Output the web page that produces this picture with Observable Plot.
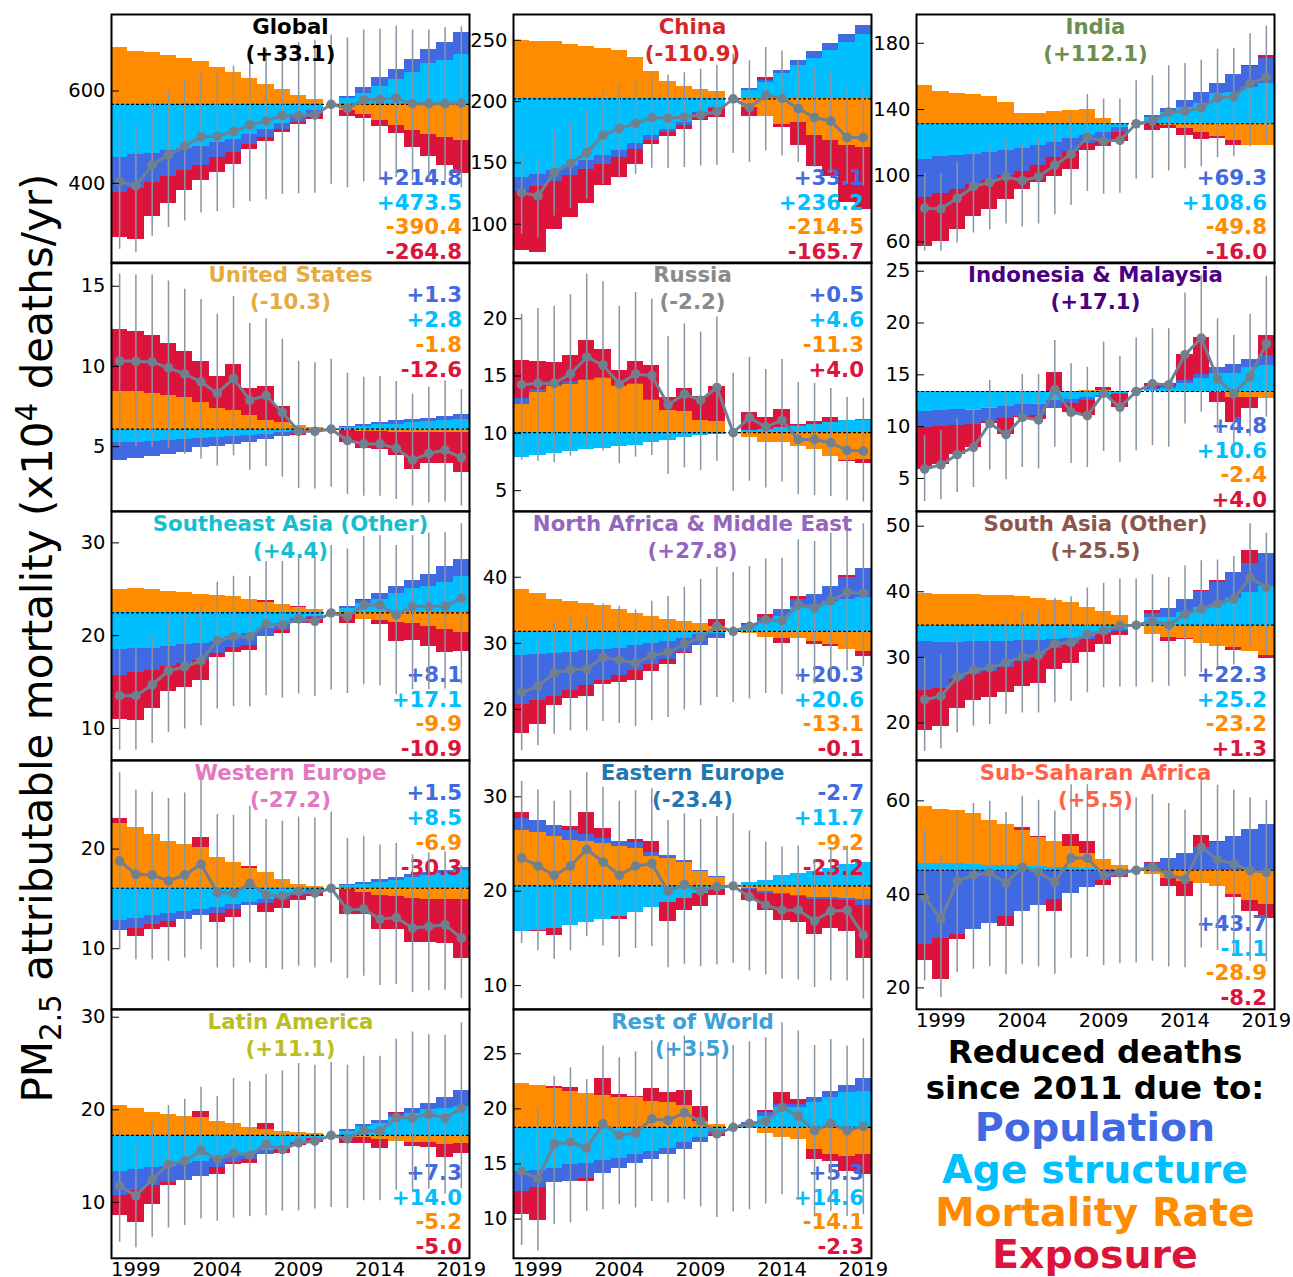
<!DOCTYPE html>
<html><head><meta charset="utf-8">
<script src="https://cdn.jsdelivr.net/npm/d3@7"></script>
<script src="https://cdn.jsdelivr.net/npm/@observablehq/plot@0.6"></script>
<style>
html,body{margin:0;padding:0;background:#fff;overflow:hidden}
#chart{position:relative;width:1293px;height:1277px;font-family:"DejaVu Sans",sans-serif;overflow:hidden}
#chart svg{position:absolute}
.ylab{position:absolute;white-space:nowrap;font-size:42px;line-height:1;transform:translate(-50%,-50%) rotate(-90deg)}
.ylab sub,.ylab sup{font-size:70%;line-height:0}
.leg{position:absolute;white-space:nowrap;font-weight:bold;line-height:1;transform:translate(-50%,-50%)}
</style></head><body><div id="chart"></div>
<script>
const years = [1998,1999,2000,2001,2002,2003,2004,2005,2006,2007,2008,2009,2010,2011,2012,2013,2014,2015,2016,2017,2018,2019];
const xTicks = [1999,2004,2009,2014,2019];
const legendLabels = ["Population","Age structure","Mortality Rate","Exposure"];

// ---- Global ----
const globalBase = 571.1;
const globalAge = [-115.5,-109.7,-106.9,-101,-95.3,-90.3,-83,-75.8,-66.4,-54.9,-41.9,-28.9,-14.4,0,11.6,23.1,39.7,54.2,68.6,88,95.3,108.3];
const globalMort = [123,115.5,112,105,100,92,79,70,55,42,33,20,11,0,-13,-21.7,-36.1,-44.8,-56.3,-65,-72.2,-79.4];
const globalPop = [-75.8,-72.2,-63.5,-55.6,-49.1,-41.2,-32.5,-28.2,-20.2,-15.9,-12,-9.5,-7.2,0,5.8,14.4,18,21.7,28.9,31,38.3,46.9];
const globalExp = [-97.5,-111,-73.6,-58.5,-43.3,-32.5,-32.5,-26,-10.8,-8.7,-7.2,-5.8,-11.6,0,-14.4,-8.7,-13,-18.8,-37.5,-48.4,-61.4,-70.8];
const globalTotal = [403.6,394.2,439.7,461.4,480.9,500.4,501.8,512,526.4,535.1,546.6,546.6,548,571.1,562.5,580.5,582,584.1,572.6,572.6,572.6,574];
const globalLo = [257,249.8,285.2,304,318.4,335.7,338.6,345.8,360.3,364.6,375.5,377.6,378.3,397.8,390.6,403.6,406.5,412.3,405,405,405,390.6];
const globalHi = [535,525.6,574.7,600,621.7,641.2,643.3,654.2,683,690.3,697.5,704.7,709.7,721.3,715.5,732.1,733.6,740.8,732.1,732.1,737.2,739.4];
const globalLabels = ["+214.8","+473.5","-390.4","-264.8"];

// ---- China ----
const chinaBase = 202.2;
const chinaAge = [-64.1,-61.4,-58.2,-54.6,-50.5,-46.5,-41.8,-36,-30.2,-24.7,-19.3,-11.1,-7.1,0,7.1,13.3,20.7,26.9,33.2,39.1,45.9,52.2];
const chinaMort = [47.8,46.5,46.5,44,42.4,41,39.1,33.7,22,14.1,9.8,7.3,5.7,0,-7,-14.7,-20.7,-19.3,-30.2,-34.2,-38.3,-39.7];
const chinaPop = [-11.4,-10.2,-9.2,-8.2,-7.4,-6.6,-5.8,-5,-4,-3,-2,-1.2,-0.5,0,1.4,1.9,2.7,4.1,5.2,6.25,6.8,7.3];
const chinaExp = [-48.4,-53.8,-39.4,-34,-27.7,-17.7,-16.3,-12.8,-3.3,-2.7,-3.5,-5.4,-7.3,0,-7.5,2.2,-2.7,-19,-24.5,-29,-46,-50.8];
const chinaTotal = [125.8,123.1,142.1,149.5,158.4,172.6,178,182.1,187,186.4,187.5,189.1,191.8,202.2,195.1,205.4,202.7,194.3,187,184.2,170.7,170.7];
const chinaLo = [91.8,89.1,106.8,112.8,120.4,132.6,137.5,140.8,145.7,145.4,146.2,147.6,148.1,157.6,150.3,159.8,155.7,150.3,146.2,141.3,132.6,131.2];
const chinaHi = [157.1,154.9,175.3,182.9,193.2,207.9,214.1,218.2,221.7,221.5,223.6,226.4,229.6,238.6,233.2,244,241.3,234,227.7,224.2,212.8,213.6];
const chinaLabels = ["+33.1","+236.2","-214.5","-165.7"];

// ---- India ----
const indiaBase = 131.4;
const indiaAge = [-21.6,-20,-19,-18.4,-17.6,-16,-15,-13,-11.4,-9,-7,-5,-2.4,0,3.6,7,10,12,18,19,21.6,24.4];
const indiaMort = [23,19.6,18.4,17.6,16.4,12.8,6.4,6,7.4,8,8.6,3.4,0,0,-0.4,-1,-3,-5,-8,-10.4,-13,-13];
const indiaPop = [-22.8,-22.4,-21,-18.6,-16.4,-15.4,-14,-12,-9.2,-8,-5,-6,-2.6,0,1.4,2.4,4,7,6.4,10.6,13,15.2];
const indiaExp = [-29.6,-28.6,-23.6,-19,-18,-14.6,-11,-10.6,-11.4,-10.6,-4,-3,-6,0,-3.6,-1.6,-4,-4.6,-1,-2.6,0.8,1.4];
const indiaTotal = [80.4,80,86.4,93.4,96,99.4,97,99.4,106.4,113,123.4,120.8,121.4,131.4,133,138.4,139,141,147,147.8,155.8,159.4];
const indiaLo = [54.4,54.4,59.4,65.4,67.4,70.8,69,70.8,76.4,82,90.4,88.8,89.4,97.8,98.4,102.8,104.2,105.4,110.8,111.4,117.4,120.4];
const indiaHi = [101.4,101.4,108.4,115.8,119.4,122.4,119,122.4,130.4,137.4,149,146.4,146.4,157.4,160.4,166.4,167.8,169.8,176.4,177,185.8,190.4];
const indiaLabels = ["+69.3","+108.6","-49.8","-16.0"];

// ---- United States ----
const usaBase = 6.09;
const usaAge = [-0.85,-0.81,-0.77,-0.70,-0.64,-0.57,-0.51,-0.45,-0.38,-0.32,-0.23,-0.15,-0.06,0,0.09,0.19,0.26,0.32,0.4,0.47,0.53,0.62];
const usaMort = [2.34,2.32,2.21,2.11,1.96,1.64,1.28,1.17,0.83,0.57,0.43,0.21,0.11,0,-0.1,-0.17,-0.17,-0.21,-0.23,-0.23,-0.23,-0.21];
const usaPop = [-1.13,-1.02,-0.94,-0.85,-0.81,-0.60,-0.55,-0.49,-0.43,-0.32,-0.21,-0.17,-0.06,0,0.06,0.11,0.15,0.19,0.19,0.21,0.26,0.32];
const usaExp = [3.87,3.74,3.64,3.26,2.87,2.55,2.02,2.87,1.7,2.06,1.0,-0.1,-0.1,0,-0.75,-1.06,-1.1,-1.45,-2.28,-1.91,-1.91,-2.47];
const usaTotal = [10.34,10.32,10.28,9.91,9.53,9.04,8.32,9.26,7.89,8.19,7.13,5.96,5.96,6.09,5.38,5.17,5.17,4.89,4.17,4.57,4.79,4.32];
const usaLo = [5.06,5.0,5.0,4.85,4.53,4.21,3.79,4.43,3.53,3.74,3.09,2.4,2.36,2.47,2.02,1.91,1.91,1.7,1.3,1.49,1.55,1.3];
const usaHi = [15.77,15.7,15.7,15.32,14.81,14.17,13.26,14.36,12.68,12.98,11.7,10.32,10.23,10.45,9.57,9.32,9.38,9.06,8.26,8.7,9.11,8.57];
const usaLabels = ["+1.3","+2.8","-1.8","-12.6"];

// ---- Russia ----
const russiaBase = 10.06;
const russiaAge = [-2.13,-1.96,-1.81,-1.61,-1.46,-1.37,-1.2,-1.08,-0.88,-0.67,-0.44,-0.29,-0.15,0,0.23,0.29,0.44,0.53,0.67,0.88,1.02,1.08];
const russiaMort = [2.49,3.51,4.01,4.24,4.53,4.68,4.01,4.24,2.78,1.9,1.84,1.02,0.94,0,-0.44,-0.88,-0.88,-1.23,-1.46,-2.05,-2.4,-2.34];
const russiaPop = [0.5,0.29,0.18,0.23,0.09,0.15,0.09,0.09,0.09,0.06,0.04,0.03,0.02,0,0,0,0,0.05,0.03,0.03,0.06,0.06];
const russiaExp = [3.3,2.43,1.93,2.25,3.42,2.4,1.32,1.87,2.98,1.11,1.96,2.13,3.1,0,1.52,1.02,1.55,0.1,0.23,0.41,-0.15,-0.35];
const russiaTotal = [14.24,14.36,14.36,15.18,16.64,15.96,14.30,15.18,15.03,12.49,13.42,12.89,14.0,10.06,11.37,10.56,11.14,9.47,9.47,9.18,8.51,8.45];
const russiaLo = [7.66,7.57,7.43,8.01,8.89,8.45,7.34,7.92,8.07,6.4,6.99,6.75,7.57,4.94,5.82,5.23,5.76,4.65,4.56,4.5,4.12,4.01];
const russiaHi = [20.38,20.88,21.08,22.11,23.89,23.22,21.08,22.28,21.7,18.45,19.56,18.83,20.15,15.23,16.64,15.56,16.43,14.44,14.36,13.92,13.13,13.07];
const russiaLabels = ["+0.5","+4.6","-11.3","+4.0"];

// ---- Indonesia & Malaysia ----
const indoBase = 13.39;
const indoAge = [-1.9,-1.84,-1.77,-1.71,-1.52,-1.42,-1.26,-1.13,-0.87,-0.81,-0.61,-0.39,-0.16,0,0.16,0.32,0.74,1.23,1.71,1.77,2.29,2.52];
const indoMort = [0,0,0,-0.1,-0.08,0,0,-0.1,0,0,0.1,0.1,0,0,0,-0.1,-0.06,-0.06,-0.13,-0.55,-0.55,-0.71];
const indoPop = [-1.55,-1.55,-1.52,-1.39,-1.26,-1.23,-1.16,-1.1,-0.8,-0.39,-0.26,-0.16,-0.1,0,0.1,0.16,0.32,0.42,0.58,0.84,0.81,0.97];
const indoExp = [-4.05,-3.68,-2.81,-2.19,-0.21,-1.51,-0.07,-0.41,1.85,-0.8,-1.46,0.32,-1.26,0,0.48,0.26,2.55,3.55,-0.9,-2.42,-1.06,1.94];
const indoTotal = [5.9,6.32,7.29,8.0,10.32,9.23,10.9,10.65,13.58,11.39,11.06,13.23,11.87,13.39,14.13,14.03,16.94,18.55,14.61,13.16,14.84,18.0];
const indoLo = [2.77,2.94,3.65,4.13,5.81,4.87,6.06,5.9,8.0,6.45,6.06,7.61,6.55,7.68,8.16,8.0,10.26,11.39,9.39,7.68,9.06,10.9];
const indoHi = [9.13,9.61,10.84,11.71,14.45,13.23,15.03,15.03,18.32,16.06,15.74,18.16,16.77,18.55,19.45,19.45,22.9,24.61,20.42,18.81,20.84,24.52];
const indoLabels = ["+4.8","+10.6","-2.4","+4.0"];

// ---- Southeast Asia (Other) ----
const seasiaBase = 22.45;
const seasiaAge = [-3.99,-3.88,-3.78,-3.63,-3.45,-3.27,-3.09,-2.55,-2.27,-1.73,-1.19,-0.65,-0.4,0,0.5,1.04,1.4,2.05,2.59,2.84,3.31,3.96];
const seasiaMort = [2.52,2.63,2.48,2.3,2.19,1.98,1.87,1.76,1.44,1.12,0.86,0.61,0.36,0,-0.1,-0.72,-0.83,-1.0,-1.19,-1.47,-1.83,-2.09];
const seasiaPop = [-2.77,-2.59,-2.37,-2.16,-2.05,-1.87,-1.33,-1.15,-1.26,-0.83,-0.65,-0.54,-0.14,0,0.18,0.29,0.65,0.79,0.9,1.29,1.69,1.8];
const seasiaExp = [-4.75,-5.14,-4.14,-2.7,-2.52,-2.16,-0.36,-0.54,-0.47,0.25,-0.36,0.07,-0.65,0,-1.0,0.1,-0.43,-2.05,-1.73,-2.16,-2.41,-2.05];
const seasiaTotal = [13.53,13.53,14.71,16.22,16.65,17.30,19.46,19.89,19.89,21.26,21.15,21.80,21.55,22.45,22.05,23.31,23.31,22.23,23.13,23.13,23.17,24.03];
const seasiaLo = [7.66,7.66,8.38,9.57,9.93,10.29,12.09,12.34,12.34,13.53,13.27,13.71,13.45,14.14,13.78,14.71,14.6,13.63,14.17,14.17,14.24,14.78];
const seasiaHi = [18.67,18.56,20.11,21.98,22.34,23.24,25.76,26.4,26.4,27.99,27.99,28.38,28.38,29.71,29.35,30.68,30.79,29.71,30.79,31.04,31.08,32.05];
const seasiaLabels = ["+8.1","+17.1","-9.9","-10.9"];

// ---- North Africa & Middle East ----
const menaBase = 31.82;
const menaAge = [-3.69,-3.54,-3.33,-3.18,-2.93,-2.78,-2.53,-2.17,-1.92,-1.52,-1.16,-0.51,-0.3,0,0.71,1.36,2.22,3.64,3.89,4.55,4.8,5.05];
const menaMort = [6.31,5.66,4.8,4.49,4.24,3.89,3.28,2.63,2.22,1.77,1.46,1.11,0.76,0,-0.3,-0.91,-1.16,-1.16,-1.57,-2.07,-2.68,-3.08];
const menaPop = [-7.42,-6.97,-6.57,-5.76,-5.3,-4.70,-4.19,-3.79,-3.13,-2.68,-2.02,-1.67,-0.8,0,0.3,0.76,1.06,1.16,1.67,2.22,3.38,4.49];
const menaExp = [-4.34,-3.64,-1.36,-1.16,-1.67,-0.61,-1.01,-1.52,-1.06,-0.86,-0.15,0.1,1.0,0,0.2,0.35,-0.66,0.45,-0.45,-0.25,0.25,-0.71];
const menaTotal = [22.58,23.48,25.51,26.01,26.11,27.88,27.47,27.02,28.13,28.64,29.9,30.91,32.58,31.82,32.58,33.54,33.43,35.81,35.35,36.46,37.73,37.58];
const menaLo = [13.74,14.49,16.26,16.77,16.77,18.18,17.88,17.42,18.28,18.79,19.9,20.56,21.82,21.06,21.57,22.42,22.22,24.34,23.84,24.85,25.86,26.5];
const menaHi = [29.9,31.01,33.18,33.94,34.04,35.96,35.61,35.1,36.36,37.07,38.48,39.65,41.52,40.76,41.62,42.78,42.88,45.66,45.4,46.67,47.93,48.08];
const menaLabels = ["+20.3","+20.6","-13.1","-0.1"];

// ---- South Asia (Other) ----
const sasiaBase = 34.9;
const sasiaAge = [-2.55,-2.65,-2.65,-2.55,-2.5,-2.5,-2.4,-2.3,-2.14,-1.99,-1.79,-1.12,-0.61,0,1.17,1.17,1.94,2.7,3.21,4.13,5.0,5.87];
const sasiaMort = [4.85,4.64,4.74,4.64,4.59,4.49,4.34,4.08,3.83,3.47,2.7,2.09,1.53,0,-1.48,-1.89,-2.04,-2.81,-3.32,-3.42,-4.03,-4.59];
const sasiaPop = [-7.4,-7.04,-5.61,-4.9,-4.59,-3.88,-3.06,-2.3,-1.38,-0.92,-0.36,-0.26,-0.36,0,0.6,1.38,2.04,2.4,3.32,3.93,4.44,5.1];
const sasiaExp = [-6.12,-5.82,-4.49,-4.08,-3.98,-3.88,-3.93,-4.34,-3.22,-2.96,-1.94,-1.53,-0.56,0,0.4,-0.61,-0.2,0.15,0.26,-0.51,1.94,-0.51];
const sasiaTotal = [23.57,24.08,26.99,28.01,28.42,29.18,30.1,30.31,32.09,32.24,33.52,34.03,34.8,34.9,35.56,34.9,36.58,37.35,38.21,38.88,42.19,40.66];
const sasiaLo = [15.66,16.02,18.47,19.49,19.74,21.28,21.53,21.53,23.06,23.32,24.59,25.36,25.46,25.46,26.12,25.61,26.99,27.65,28.42,28.83,31.58,30.46];
const sasiaHi = [29.95,30.36,33.42,34.69,35.05,35.82,36.84,37.09,39.03,39.23,40.56,41.28,41.94,41.94,42.6,42.19,43.98,44.74,44.85,45.36,50.36,48.93];
const sasiaLabels = ["+22.3","+25.2","-23.2","+1.3"];

// ---- Western Europe ----
const weurBase = 16.07;
const weurAge = [-3.23,-3.0,-2.73,-2.5,-2.33,-2.1,-1.9,-1.67,-1.43,-1.17,-0.83,-0.5,-0.17,0,0.23,0.4,0.6,0.77,1.07,1.27,1.5,1.77];
const weurMort = [6.5,6.1,5.4,4.73,4.4,4.07,3.1,2.57,2.0,1.6,0.9,0.33,0.17,0,-0.17,-0.43,-0.73,-0.83,-1.07,-1.17,-1.1,-1.1];
const weurPop = [-1.0,-1.0,-0.93,-0.83,-0.77,-0.67,-0.6,-0.5,-0.33,-0.33,-0.33,-0.23,-0.17,0,0.1,0.17,0.23,0.3,0.27,0.33,0.27,0.33];
const weurExp = [0.5,-0.83,-0.5,-0.6,-0.07,1.03,-0.93,-0.77,0.23,-0.9,-0.9,-0.53,-0.5,0,-2.43,-2.23,-3.43,-3.33,-4.37,-4.27,-4.4,-6.0];
const weurTotal = [18.8,17.47,17.4,16.8,17.4,18.47,15.63,15.57,16.57,15.4,15.3,15.73,15.57,16.07,13.9,13.97,12.97,13.13,12.07,12.23,12.4,11.07];
const weurLo = [9.9,8.9,8.9,8.73,9.07,9.9,8.07,8.07,8.57,8.0,7.9,8.23,8.07,8.57,7.0,7.23,6.3,6.4,5.57,5.8,5.83,5.0];
const weurHi = [27.67,25.9,25.73,25.07,25.63,27.73,23.47,23.4,24.3,22.97,22.8,23.23,23.13,23.73,21.07,21.3,20.4,20.57,19.4,19.63,19.73,18.33];
const weurLabels = ["+1.5","+8.5","-6.9","-30.3"];

// ---- Eastern Europe ----
const eeurBase = 20.56;
const eeurAge = [-4.78,-4.68,-4.5,-4.2,-3.9,-3.55,-3.2,-2.8,-2.3,-1.8,-1.3,-0.85,-0.35,0,0.35,0.6,1.06,1.3,1.48,1.83,2.25,2.46];
const eeurMort = [5.88,5.70,5.28,4.82,4.72,4.47,4.23,4.01,3.17,2.89,2.46,1.48,0.85,0,-0.3,-0.63,-0.81,-1.06,-1.27,-1.27,-1.34,-1.44];
const eeurPop = [1.23,1.23,1.13,1.06,0.7,0.6,0.49,0.56,0.42,0.35,0.25,0.18,0.11,0,-0.05,-0.18,-0.1,-0.1,-0.18,-0.18,-0.18,-0.6];
const eeurExp = [0.63,-0.13,-0.78,0.44,2.36,1.02,-0.39,0.35,1.07,-2.0,-1.27,-1.33,-0.71,0,-1.16,-1.83,-2.72,-2.71,-3.72,-3.05,-3.3,-5.63];
const eeurTotal = [23.52,22.68,21.69,22.68,24.44,23.1,21.69,22.68,22.92,20.0,20.7,20.04,20.46,20.56,19.4,18.52,17.99,17.99,16.87,17.89,17.99,15.35];
const eeurLo = [14.47,13.7,12.78,13.7,15.18,14.19,12.99,13.94,14.12,11.9,12.25,12.01,12.18,12.36,11.58,11.13,10.67,10.6,9.79,10.49,10.49,8.59];
const eeurHi = [31.62,30.74,29.54,30.67,32.54,31.02,29.54,30.67,30.85,27.5,28.2,27.61,27.92,28.2,26.37,25.21,24.68,24.79,23.38,24.58,24.79,21.87];
const eeurLabels = ["-2.7","+11.7","-9.2","-23.2"];

// ---- Sub-Saharan Africa ----
const ssaBase = 45.16;
const ssaAge = [1.48,1.48,1.34,1.2,1.06,1.06,0.85,0.71,0.64,0.49,0.35,0.1,0.05,0,-0.02,-0.03,-0.04,-0.05,-0.06,-0.07,-0.08,-0.09];
const ssaMort = [12.08,11.52,11.38,10.95,9.68,8.62,7.56,6.36,5.51,4.59,3.32,2.3,1.06,0,-0.92,-1.77,-2.33,-2.83,-3.39,-5.02,-6.36,-7.28];
const ssaPop = [-15.9,-14.7,-13.64,-12.58,-11.31,-9.96,-8.8,-7.49,-6.22,-5.02,-3.75,-2.19,-1.27,0,1.34,2.47,3.67,4.88,5.94,7.21,8.62,9.82];
const ssaExp = [-3.39,-8.69,-1.27,-0.14,0,-2.12,0.71,0.14,-2.61,2.47,2.47,-1.06,-0.35,0,0.21,-1.63,-3.18,2.54,0.21,-0.71,-2.47,-2.97];
const ssaTotal = [39.43,34.7,42.83,44.1,44.59,42.47,45.8,44.73,42.61,47.77,47.77,44.03,44.59,45.16,45.87,44.24,43.18,50.04,47.42,46.5,45.09,44.73];
const ssaLo = [21.48,17.95,23.25,23.96,24.59,22.83,24.95,24.45,22.9,26.36,26.57,24.81,25.16,25.3,25.72,24.45,24.31,28.55,27.99,27.14,25.72,25.51];
const ssaHi = [53.78,48.34,57.88,59.43,59.93,57.53,60.99,60.14,57.81,63.46,63.46,58.73,60.49,60.64,61.34,59.43,58.02,64.38,63.32,62.26,60.64,60.14];
const ssaLabels = ["+43.7","-1.1","-28.9","-8.2"];

// ---- Latin America ----
const latamBase = 17.25;
const latamAge = [-3.86,-3.68,-3.5,-3.32,-3.04,-2.79,-2.5,-2.07,-2.0,-1.6,-1.2,-0.8,-0.3,0,0.43,0.96,1.32,1.93,2.39,2.75,2.93,3.11];
const latamMort = [3.21,2.93,2.5,2.29,2.04,1.96,1.5,1.32,0.89,0.61,0.43,0.25,0.14,0,-0.05,-0.29,-0.46,-0.64,-0.75,-0.75,-1.0,-0.93];
const latamPop = [-2.68,-2.32,-1.96,-1.79,-1.82,-1.61,-0.93,-0.89,-0.6,-0.5,-0.3,-0.15,-0.1,0,0.18,0.18,0.25,0.36,0.54,0.71,1.14,1.68];
const latamExp = [-2.14,-3.39,-1.96,-0.36,-0.07,0.61,-0.79,-0.18,-0.45,0.61,-0.47,-0.12,-0.38,0,-0.82,-0.64,-0.96,0.21,-0.43,-0.61,-1.43,-1.04];
const latamTotal = [11.79,10.71,12.5,14.11,14.46,15.61,14.64,15.29,15.11,16.25,15.71,16.43,16.61,17.25,16.86,17.75,17.68,19.18,19.11,19.54,19.11,20.18];
const latamLo = [5.71,5.11,6.25,7.25,7.5,8.21,7.96,8.32,8.46,8.57,9.04,9.11,9.29,9.46,9.36,10.18,10.18,11.32,11.25,11.43,10.89,11.5];
const latamHi = [17.86,16.61,18.57,20.46,21.14,22.43,21.43,23.39,23.04,23.82,24.18,25.0,24.82,25.11,24.82,25.79,25.79,27.61,28.39,28.11,28.04,29.39];
const latamLabels = ["+7.3","+14.0","-5.2","-5.0"];

// ---- Rest of World ----
const rowBase = 18.33;
const rowAge = [-4.0,-3.9,-3.7,-3.4,-3.25,-3.03,-2.85,-2.5,-2.18,-1.88,-1.42,-0.97,-0.36,0,0.24,1.0,1.76,1.82,2.21,2.67,3.12,3.21];
const rowMort = [3.94,3.82,3.52,3.21,3.03,2.91,2.73,2.67,2.3,2.27,2.0,0.55,0.24,0,-0.12,-0.52,-0.97,-1.12,-2.03,-2.48,-2.64,-2.48];
const rowPop = [-1.82,-1.6,-1.3,-1.5,-1.36,-1.12,-0.85,-0.76,-0.76,-0.6,-0.6,-0.45,-0.3,0,0.15,0.3,0.3,0.24,0.52,0.61,0.7,1.21];
const rowExp = [-2.14,-2.98,0.2,0.36,-0.3,1.55,0.25,0.08,1.2,0.85,1.33,1.3,-0.18,0,0.07,0.21,1.06,0.5,-0.91,-0.61,-1.4,-1.82];
const rowTotal = [14.33,13.67,16.82,17.0,16.45,18.64,17.61,17.82,19.09,18.97,19.64,18.88,17.73,18.33,18.67,18.88,20.15,19.33,18.03,18.67,18.03,18.42];
const rowLo = [7.6,7.1,9.48,9.64,10.7,10.85,11.3,11.0,11.6,11.45,11.76,11.09,10.15,10.64,10.85,11.36,12.21,11.76,10.39,10.7,10.24,10.39];
const rowHi = [16.2,20.0,22.97,23.73,22.67,25.7,24.64,25.18,26.15,26.0,26.61,26.09,25.3,25.76,26.09,26.45,27.82,27.06,25.76,26.3,25.7,26.39];
const rowLabels = ["+5.3","+14.6","-14.1","-2.3"];

// ---- styling / layout ----
const compColor = {pop:"#4169E1", age:"#00BFFF", mort:"#FF8C00", exp:"#DC143C"};
const labelColors = [compColor.pop, compColor.age, compColor.mort, compColor.exp];
const colX = [110.7, 512.7, 915.7];
const rowY = [13.5, 262.3, 511, 759.8, 1008.6];
const PW = 358, PH = 248.8;

const panels = [
  {title:"Global", change:"(+33.1)", color:"#000000", col:0,row:0, domain:[226.7,765.7], ticks:[400,600], side:"bottom", base:globalBase, age:globalAge, mort:globalMort, pop:globalPop, exp:globalExp, total:globalTotal, lo:globalLo, hi:globalHi, labels:globalLabels},
  {title:"China", change:"(-110.9)", color:"#d62728", col:1,row:0, domain:[68.2,271], ticks:[100,150,200,250], side:"bottom", base:chinaBase, age:chinaAge, mort:chinaMort, pop:chinaPop, exp:chinaExp, total:chinaTotal, lo:chinaLo, hi:chinaHi, labels:chinaLabels},
  {title:"India", change:"(+112.1)", color:"#6b8e4e", col:2,row:0, domain:[47.1,197.4], ticks:[60,100,140,180], side:"bottom", base:indiaBase, age:indiaAge, mort:indiaMort, pop:indiaPop, exp:indiaExp, total:indiaTotal, lo:indiaLo, hi:indiaHi, labels:indiaLabels},
  {title:"United States", change:"(-10.3)", color:"#e6ab3c", col:0,row:1, domain:[0.97,16.48], ticks:[5,10,15], side:"top", base:usaBase, age:usaAge, mort:usaMort, pop:usaPop, exp:usaExp, total:usaTotal, lo:usaLo, hi:usaHi, labels:usaLabels},
  {title:"Russia", change:"(-2.2)", color:"#8a8a8a", col:1,row:1, domain:[3.2,24.9], ticks:[5,10,15,20], side:"top", base:russiaBase, age:russiaAge, mort:russiaMort, pop:russiaPop, exp:russiaExp, total:russiaTotal, lo:russiaLo, hi:russiaHi, labels:russiaLabels},
  {title:"Indonesia & Malaysia", change:"(+17.1)", color:"#4b0082", col:2,row:1, domain:[1.83,25.84], ticks:[5,10,15,20,25], side:"bottom", base:indoBase, age:indoAge, mort:indoMort, pop:indoPop, exp:indoExp, total:indoTotal, lo:indoLo, hi:indoHi, labels:indoLabels},
  {title:"Southeast Asia (Other)", change:"(+4.4)", color:"#17becf", col:0,row:2, domain:[6.57,33.38], ticks:[10,20,30], side:"bottom", base:seasiaBase, age:seasiaAge, mort:seasiaMort, pop:seasiaPop, exp:seasiaExp, total:seasiaTotal, lo:seasiaLo, hi:seasiaHi, labels:seasiaLabels},
  {title:"North Africa & Middle East", change:"(+27.8)", color:"#9467bd", col:1,row:2, domain:[12.3,49.95], ticks:[20,30,40], side:"bottom", base:menaBase, age:menaAge, mort:menaMort, pop:menaPop, exp:menaExp, total:menaTotal, lo:menaLo, hi:menaHi, labels:menaLabels},
  {title:"South Asia (Other)", change:"(+25.5)", color:"#8c564b", col:2,row:2, domain:[14.3,52.24], ticks:[20,30,40,50], side:"bottom", base:sasiaBase, age:sasiaAge, mort:sasiaMort, pop:sasiaPop, exp:sasiaExp, total:sasiaTotal, lo:sasiaLo, hi:sasiaHi, labels:sasiaLabels},
  {title:"Western Europe", change:"(-27.2)", color:"#e377c2", col:0,row:3, domain:[3.92,28.89], ticks:[10,20], side:"top", base:weurBase, age:weurAge, mort:weurMort, pop:weurPop, exp:weurExp, total:weurTotal, lo:weurLo, hi:weurHi, labels:weurLabels},
  {title:"Eastern Europe", change:"(-23.4)", color:"#1f77b4", col:1,row:3, domain:[7.49,33.85], ticks:[10,20,30], side:"top", base:eeurBase, age:eeurAge, mort:eeurMort, pop:eeurPop, exp:eeurExp, total:eeurTotal, lo:eeurLo, hi:eeurHi, labels:eeurLabels},
  {title:"Sub-Saharan Africa", change:"(+5.5)", color:"tomato", col:2,row:3, domain:[15.42,68.63], ticks:[20,40,60], side:"bottom", xaxis:true, base:ssaBase, age:ssaAge, mort:ssaMort, pop:ssaPop, exp:ssaExp, total:ssaTotal, lo:ssaLo, hi:ssaHi, labels:ssaLabels},
  {title:"Latin America", change:"(+11.1)", color:"#bcbd22", col:0,row:4, domain:[3.97,30.83], ticks:[10,20,30], side:"bottom", xaxis:true, base:latamBase, age:latamAge, mort:latamMort, pop:latamPop, exp:latamExp, total:latamTotal, lo:latamLo, hi:latamHi, labels:latamLabels},
  {title:"Rest of World", change:"(+3.5)", color:"#3da0d8", col:1,row:4, domain:[6.44,29.02], ticks:[10,15,20,25], side:"bottom", xaxis:true, base:rowBase, age:rowAge, mort:rowMort, pop:rowPop, exp:rowExp, total:rowTotal, lo:rowLo, hi:rowHi, labels:rowLabels}
];

function stackBars(p) {
  const out = [];
  years.forEach((yr, i) => {
    let up = p.base, down = p.base;
    for (const key of ["age","mort","pop","exp"]) {
      const v = p[key][i];
      if (!v) continue;
      if (v > 0) { out.push({x1: yr - 0.5, x2: yr + 0.5, y1: up, y2: up + v, fill: compColor[key]}); up += v; }
      else { out.push({x1: yr - 0.5, x2: yr + 0.5, y1: down, y2: down + v, fill: compColor[key]}); down += v; }
    }
  });
  return out;
}

const chart = document.getElementById("chart");
const ML = 60, MR = 12, MT = 10;
const font = "DejaVu Sans";
const TXT = 21.3;

for (const p of panels) {
  const MB = p.xaxis ? 40 : 10;
  const series = years.map((year, i) => ({year, total: p.total[i], lo: p.lo[i], hi: p.hi[i]}));
  const labelMarks = p.labels.map((t, j) => Plot.text([t], {
    text: d => d,
    frameAnchor: p.side === "top" ? "top-right" : "bottom-right",
    dx: -7.5,
    dy: p.side === "top" ? 33 + 24.8 * j : -85.4 + 24.8 * j,
    textAnchor: "end", lineAnchor: "middle",
    fontSize: TXT, fontWeight: "bold", fill: labelColors[j]
  }));
  const marks = [
    Plot.rect(stackBars(p), {x1:"x1", x2:"x2", y1:"y1", y2:"y2", fill:"fill", shapeRendering:"crispEdges", clip:true}),
    ...labelMarks,
    Plot.ruleY([p.base], {stroke:"#000", strokeWidth:1.2, strokeDasharray:"3,2"}),
    Plot.ruleX(series, {x:"year", y1:"lo", y2:"hi", stroke:"#8796a5", strokeWidth:1.5, clip:true}),
    Plot.line(series, {x:"year", y:"total", stroke:"#708090", strokeWidth:3}),
    Plot.dot(series, {x:"year", y:"total", r:4.8, fill:"#708090"}),
    Plot.axisY({ticks: p.ticks, tickSize: -8, tickPadding: 14, fontSize: 19.5, tickFormat: "d", label: null, stroke:"#000", color:"#000"}),
    Plot.frame({stroke:"#000", strokeWidth:2}),
    Plot.text([p.title], {text: d => d, frameAnchor:"top", dy: 12.7, lineAnchor:"middle", fontSize: TXT, fontWeight:"bold", fill: p.color}),
    Plot.text([p.change], {text: d => d, frameAnchor:"top", dy: 39.5, lineAnchor:"middle", fontSize: TXT, fontWeight:"bold", fill: p.color})
  ];
  if (p.xaxis) marks.push(Plot.axisX({ticks: xTicks, tickSize: 0, tickPadding: 4, fontSize: 19.5, tickFormat: "d", label: null, color:"#000"}));
  const svg = Plot.plot({
    width: PW + ML + MR, height: PH + MT + MB,
    marginLeft: ML, marginRight: MR, marginTop: MT, marginBottom: MB,
    style: {background: "transparent", overflow: "visible", fontFamily: font, color: "#000"},
    x: {domain: [1997.5, 2019.5], axis: null, label: null},
    y: {domain: p.domain, axis: null, label: null},
    color: {type: "identity"},
    marks
  });
  svg.style.left = (colX[p.col] - ML) + "px";
  svg.style.top = (rowY[p.row] - MT) + "px";
  svg.style.maxWidth = "none";
  chart.appendChild(svg);
}

// y axis label
const yl = document.createElement("div");
yl.className = "ylab";
yl.innerHTML = "PM<sub>2.5</sub> attributable mortality (x10<sup>4</sup> deaths/yr)";
yl.style.left = "38px"; yl.style.top = "638px";
chart.appendChild(yl);

// legend text
const legLines = [
  {t: "Reduced deaths", c: "#000", s: 32.5, y: 1052},
  {t: "since 2011 due to:", c: "#000", s: 32.5, y: 1088},
  {t: legendLabels[0], c: compColor.pop, s: 39.5, y: 1128},
  {t: legendLabels[1], c: compColor.age, s: 39.5, y: 1170},
  {t: legendLabels[2], c: compColor.mort, s: 39.5, y: 1213},
  {t: legendLabels[3], c: compColor.exp, s: 39.5, y: 1255}
];
for (const L of legLines) {
  const d = document.createElement("div");
  d.className = "leg";
  d.textContent = L.t;
  d.style.color = L.c; d.style.fontSize = L.s + "px";
  d.style.left = "1095px"; d.style.top = L.y + "px";
  chart.appendChild(d);
}
</script></body></html>
